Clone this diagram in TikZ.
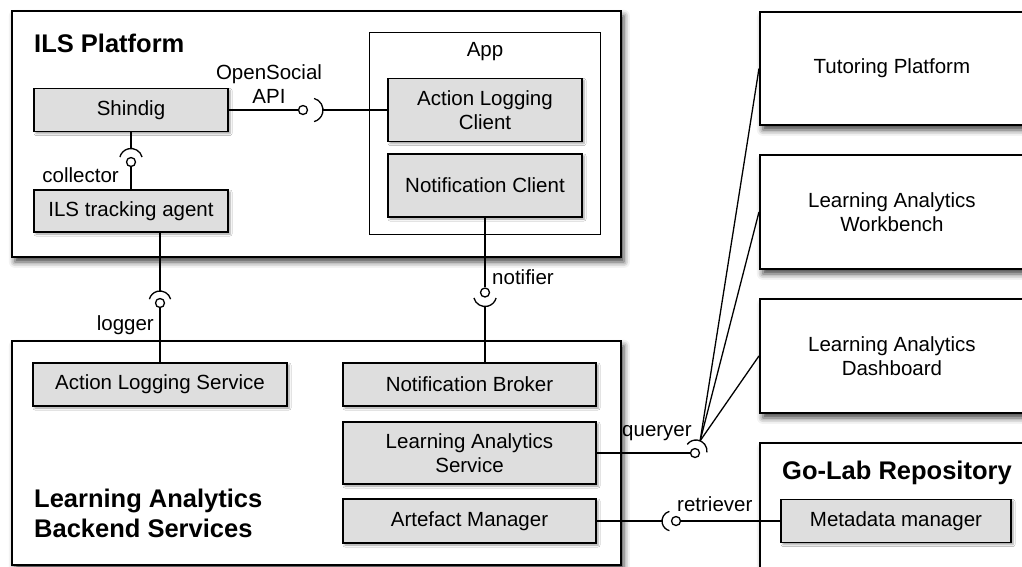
\documentclass[tikz,border=0pt]{standalone}
\usepackage{fontspec}
\setmainfont{Liberation Sans}
\usetikzlibrary{shadows.blur}
\definecolor{partgray}{RGB}{222,222,222}

\begin{document}
\begin{tikzpicture}[x=1pt,y=1pt]
        \tikzstyle{every node}=[font=\fontsize{20.5}{24}\selectfont]
        \tikzstyle{frame}=[draw, line width=1.8pt, fill=white, anchor=north west, align=center, inner sep=0pt,
            blur shadow={shadow xshift=3pt, shadow yshift=-5pt, shadow blur radius=6pt, shadow opacity=75}]
        \tikzstyle{part}=[draw, line width=1.3pt, fill=partgray, align=center, inner sep=0pt,
            blur shadow={shadow xshift=2pt, shadow yshift=-2pt, shadow blur radius=2pt, shadow opacity=40}]
        \tikzstyle{heading}=[font=\fontsize{25.5}{30}\selectfont\bfseries, align=left, anchor=west, inner sep=0pt]
        \tikzstyle{iface}=[inner sep=0pt]
        \tikzstyle{ball}=[draw, circle, fill=white, line width=1.3pt, minimum size=9pt, inner sep=0pt]
        \tikzstyle{wire}=[line width=1.3pt]

        \useasboundingbox (0,0) rectangle (1022,-566);
        \clip (0,0) rectangle (1022,-566);

        % ILS platform
        \node[frame, minimum width=609pt, minimum height=246pt] (ils) at (11,-10) {};
        \node[heading] (ilstitle) at (34,-43) {ILS Platform};
        \node[draw, line width=1.3pt, anchor=north west, minimum width=231pt, minimum height=202pt, inner sep=0pt] (app) at (369,-32) {};
        \node (apptitle) at (485,-52) {App};
        \node[part, minimum width=194pt, minimum height=43pt] (shindig) at (131,-110) {Shindig};
        \node[part, minimum width=194pt, minimum height=42pt] (agent) at (131,-211) {ILS tracking agent};
        \node[part, minimum width=194pt, minimum height=63pt] (alclient) at (485,-110) {Action Logging\\Client};
        \node[part, minimum width=194pt, minimum height=63pt] (nclient) at (485,-185.5) {Notification Client};

        % backend services
        \node[frame, minimum width=609pt, minimum height=224pt] (lab) at (11,-340) {};
        \node[heading] (labtitle) at (34,-513) {Learning Analytics\\Backend Services};
        \node[part, minimum width=254pt, minimum height=43pt] (alservice) at (160,-384.5) {Action Logging Service};
        \node[part, minimum width=253pt, minimum height=43pt] (broker) at (469.5,-384.5) {Notification Broker};
        \node[part, minimum width=253pt, minimum height=62pt] (laservice) at (469.5,-453) {Learning Analytics\\Service};
        \node[part, minimum width=253pt, minimum height=44pt] (artefact) at (469.5,-521) {Artefact Manager};

        % clients on the right
        \node[frame, minimum width=264pt, minimum height=113pt] (tutor) at (759,-11) {Tutoring Platform};
        \node[frame, minimum width=264pt, minimum height=114pt] (workbench) at (759,-154) {Learning Analytics\\Workbench};
        \node[frame, minimum width=264pt, minimum height=114pt] (dashboard) at (759,-298) {Learning Analytics\\Dashboard};
        \node[frame, minimum width=280pt, minimum height=150pt] (golab) at (759,-442) {};
        \node[heading] (golabtitle) at (782,-473) {Go-Lab Repository};
        \node[part, minimum width=230pt, minimum height=43pt] (metadata) at (896,-521) {Metadata manager};

        % OpenSocial API
        \node[ball] (osball) at (303,-110) {};
        \coordinate (oscup) at (311,-110);
        \draw[wire] ([shift={(75:12)}]oscup) arc[start angle=75, end angle=-75, radius=12];
        \draw[wire] (shindig.east) -- (osball);
        \draw[wire] ([shift={(0:12)}]oscup) -- (alclient.west);
        \node[iface, align=center] (oslabel) at (269,-84) {OpenSocial\\API};

        % collector
        \node[ball] (colball) at (131,-162) {};
        \coordinate (colcup) at (131,-160);
        \draw[wire] ([shift={(15:11.5)}]colcup) arc[start angle=15, end angle=165, radius=11.5];
        \draw[wire] (shindig.south) -- ([shift={(90:11.5)}]colcup);
        \draw[wire] (colball) -- (agent.north);
        \node[iface, anchor=east] (collabel) at (119,-175) {collector};

        % logger
        \node[ball] (logball) at (160,-303) {};
        \coordinate (logcup) at (160,-302);
        \draw[wire] ([shift={(15:11)}]logcup) arc[start angle=15, end angle=165, radius=11];
        \draw[wire] (agent.south -| alservice) -- ([shift={(90:11)}]logcup);
        \draw[wire] (logball) -- (alservice.north);
        \node[iface, anchor=east] (loglabel) at (154,-325) {logger};

        % notifier
        \node[ball] (notball) at (485,-292.5) {};
        \coordinate (notcup) at (485,-295);
        \draw[wire] ([shift={(195:11.5)}]notcup) arc[start angle=195, end angle=345, radius=11.5];
        \draw[wire] (nclient.south) -- (notball);
        \draw[wire] ([shift={(270:11.5)}]notcup) -- (broker.north -| nclient);
        \node[iface, anchor=west] (notlabel) at (492,-277) {notifier};

        % queryer
        \node[ball] (qball) at (695,-453) {};
        \coordinate (qcup) at (696,-451);
        \coordinate (qtip) at ([shift={(68:11)}]qcup);
        \draw[wire] ([shift={(-7:11)}]qcup) arc[start angle=-7, end angle=143, radius=11];
        \draw[wire] (laservice.east) -- (qball);
        \draw[wire] (qtip) -- (tutor.west);
        \draw[wire] (qtip) -- (workbench.west);
        \draw[wire] (qtip) -- (dashboard.west);
        \node[iface, anchor=west] (qlabel) at (622,-433) {queryer};

        % retriever
        \node[ball] (rball) at (676,-521) {};
        \coordinate (rcup) at (672,-521);
        \draw[wire] ([shift={(105:10)}]rcup) arc[start angle=105, end angle=255, radius=10];
        \draw[wire] (artefact.east) -- ([shift={(180:10)}]rcup);
        \draw[wire] (rball) -- (metadata.west);
        \node[iface, anchor=west] (rlabel) at (677,-504) {retriever};
\end{tikzpicture}
\end{document}
